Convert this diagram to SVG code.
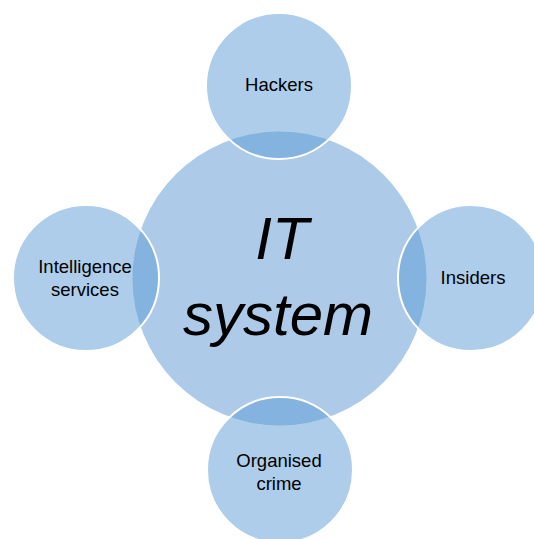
<svg xmlns="http://www.w3.org/2000/svg" width="534" height="539" viewBox="0 0 534 539">
<style>
.bg{fill:#ffffff}
.hub{fill:#adcbe8}
.sat{fill:#5b9bd5;fill-opacity:0.5;stroke:#ffffff;stroke-width:2}
.lbl{font-family:"Liberation Sans",Arial,sans-serif;font-size:18.5px;fill:#000000;text-anchor:middle}
.big{font-family:"Liberation Sans",Arial,sans-serif;font-size:60px;font-style:italic;fill:#000000;text-anchor:middle}
</style>
<rect class="bg" x="0" y="0" width="534" height="539"/>
<g id="connectors"></g>
<g id="it-system">
<circle class="hub" cx="279.5" cy="278.5" r="147"/>
<text class="big" x="282" y="259">IT</text>
<text class="big" x="278" y="335">system</text>
</g>
<g id="hackers">
<circle class="sat" cx="279" cy="86" r="73"/>
<text class="lbl" x="279" y="91">Hackers</text>
</g>
<g id="insiders">
<circle class="sat" cx="471" cy="278" r="73"/>
<text class="lbl" x="473" y="284">Insiders</text>
</g>
<g id="organised-crime">
<circle class="sat" cx="280" cy="470" r="73"/>
<text class="lbl" x="279" y="467">Organised</text>
<text class="lbl" x="279" y="490">crime</text>
</g>
<g id="intelligence-services">
<circle class="sat" cx="86" cy="278" r="73"/>
<text class="lbl" x="85" y="273">Intelligence</text>
<text class="lbl" x="85" y="296">services</text>
</g>
</svg>
